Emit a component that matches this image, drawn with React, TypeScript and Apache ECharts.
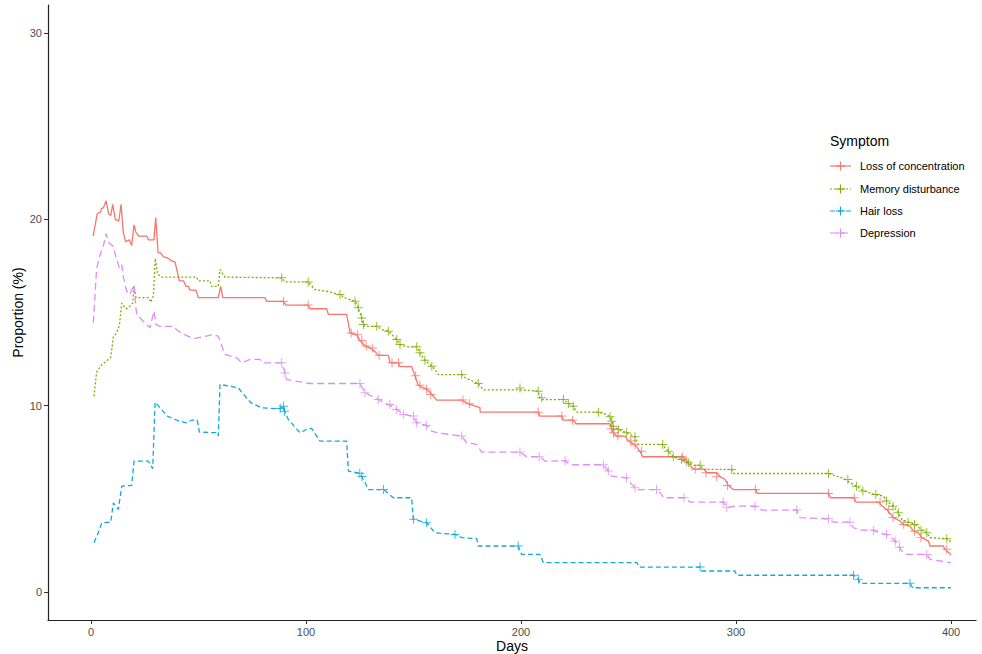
import React, { useEffect, useRef } from "react";
import * as echarts from "echarts";

const xTicks = [0, 100, 200, 300, 400];
const yTicks = [0, 10, 20, 30];
const seriesNames = ["Loss of concentration", "Memory disturbance", "Hair loss", "Depression"];
const colors = ["#F8766D", "#7CAE00", "#12A9D6", "#E08CF3"];

const lossConcentration = [[1,19.1],[2.9,20.3],[4.5,20.4],[5,20.6],[5.7,20.6],[7,21.0],[8.2,20.3],[9.2,20.2],[10.1,20.8],[11.3,20.0],[12.9,19.9],[14,20.8],[15,19.3],[16.1,18.8],[17.8,18.9],[18.9,18.6],[20,19.7],[20.9,19.3],[22.2,19.1],[25.9,19.1],[26.7,18.9],[29.3,18.9],[30.1,20.1],[31.2,18.2],[32.4,18.2],[33.6,18.0],[36,17.9],[37.1,17.8],[39.1,17.7],[41.1,16.7],[43,16.7],[44.2,16.4],[45.3,16.4],[46,16.2],[48.8,16.2],[49.9,15.8],[59.2,15.8],[60.3,16.4],[61.3,15.8],[80.9,15.8],[81.7,15.6],[89.5,15.6],[90.7,15.4],[101,15.4],[101.9,15.2],[109.6,15.2],[110.4,14.9],[118.9,14.9],[120.5,13.9],[123.6,13.8],[125.1,13.5],[127.4,13.2],[129.8,13.1],[132.1,12.9],[133.6,12.7],[138.3,12.7],[139.1,12.3],[142.9,12.3],[143.7,12.1],[149.1,12.1],[150.7,11.6],[152.2,11.1],[153.8,11.0],[156.1,10.9],[158.5,10.6],[160.8,10.3],[172.4,10.3],[175.5,10.1],[180.9,9.9],[181,9.65],[208,9.65],[208.8,9.44],[218.9,9.44],[219.7,9.22],[224.3,9.22],[225.6,9.03],[241.4,9.03],[242.2,8.76],[242.9,8.55],[244.5,8.37],[248.4,8.37],[250,8.1],[253,7.9],[255.3,7.56],[256.6,7.26],[275.5,7.26],[277,7.02],[278.6,6.8],[280.2,6.6],[285.1,6.6],[286.4,6.4],[291,6.4],[292.6,6.19],[294.9,6.04],[296.4,5.72],[298.7,5.5],[309.3,5.5],[309.9,5.29],[342.9,5.29],[344.1,5.06],[354.9,5.06],[355.8,4.83],[366.2,4.83],[367.7,4.65],[370,4.43],[371.3,4.26],[373.2,3.99],[376.3,3.81],[377.8,3.63],[380.9,3.54],[382.5,3.27],[384.8,3.18],[386.4,2.92],[389.5,2.73],[390.2,2.47],[396.4,2.47],[397.2,2.29],[400,2.0]];

const memoryDisturbance = [[1.4,10.5],[2.6,11.8],[5,12.2],[7.3,12.4],[9.2,12.6],[10.4,13.7],[11.9,13.9],[13.2,14.3],[14.3,15.5],[16.1,15.2],[17.4,15.25],[19.4,15.5],[20,16.4],[20.9,15.8],[26.7,15.8],[27.8,15.55],[29,15.9],[29.9,17.9],[30.9,17.1],[32.5,16.9],[49.1,16.9],[49.9,16.7],[55.3,16.7],[56.1,16.4],[59.2,16.4],[60,17.3],[62.3,16.9],[88.7,16.86],[90.2,16.64],[101,16.64],[104.2,16.23],[109.6,16.14],[115.8,15.96],[118.1,15.78],[122.8,15.6],[124.3,15.25],[125.9,14.7],[126.7,14.35],[127.4,14.26],[132.9,14.26],[135.2,14.09],[138.3,14.0],[142.2,13.55],[143.7,13.28],[146.8,13.16],[151.5,13.16],[153,12.84],[155.3,12.44],[158.5,12.12],[160,11.94],[161.5,11.67],[172.4,11.67],[174,11.5],[180.1,11.19],[182.5,10.85],[199.5,10.85],[208,10.78],[208.8,10.42],[209.6,10.33],[219.7,10.33],[222,10.12],[224.3,9.97],[225.9,9.65],[236,9.65],[239.8,9.53],[241.4,9.4],[242.2,9.17],[242.9,8.9],[245.3,8.72],[249.1,8.55],[253,8.33],[254.6,7.92],[265.9,7.92],[266.9,7.74],[268.5,7.56],[270.8,7.26],[274.7,7.11],[277.8,6.94],[280.2,6.8],[283.3,6.8],[284.8,6.58],[298,6.58],[299,6.36],[343,6.36],[350,6.1],[353,5.87],[356,5.68],[359.2,5.42],[364.7,5.24],[368.5,5.15],[370,4.88],[373.2,4.61],[375.5,4.26],[377.1,3.9],[380.2,3.75],[383.3,3.63],[386.4,3.32],[388.7,3.18],[390.2,2.92],[398,2.86],[399.5,2.73],[400,2.73]];

const hairLoss = [[1.4,2.65],[3.4,3.18],[5,3.72],[9.2,3.75],[10.4,4.79],[12.7,4.43],[14.3,5.68],[18.9,5.72],[20,7.02],[26.7,7.02],[28.7,6.62],[29.8,10.19],[32.1,9.89],[35.5,9.44],[39.8,9.22],[44.2,9.08],[46.8,9.22],[49.4,9.22],[50.4,8.58],[58.5,8.55],[59.2,8.37],[60,11.14],[68.5,10.96],[70.1,10.72],[74.3,10.16],[79.4,9.89],[87.9,9.83],[89.5,9.97],[90,9.71],[91.8,9.26],[97.2,8.55],[101.1,8.78],[102.6,8.78],[106.5,8.1],[118.9,8.1],[119.7,6.49],[125.1,6.37],[126.7,6.04],[129,5.5],[136,5.5],[140.6,5.06],[149.1,5.06],[149.9,3.9],[156.1,3.72],[160,3.18],[169.3,3.09],[172.4,2.92],[179.4,2.86],[180.1,2.47],[198.7,2.47],[200.3,2.02],[208.8,2.02],[210.4,1.58],[253.8,1.58],[255,1.34],[283.3,1.34],[284,1.13],[299.5,1.13],[300.3,0.9],[354.6,0.9],[356.9,0.68],[357.7,0.47],[380.9,0.47],[382.2,0.23],[400,0.23]];

const depression = [[1.1,14.45],[2.6,17.34],[4.2,18.1],[5.7,18.55],[7,19.23],[8.5,18.7],[10.4,18.55],[11.6,17.98],[13.2,17.39],[14.3,17.57],[15,16.94],[16.6,16.14],[18.1,15.96],[20,16.5],[21.2,14.89],[24.3,14.53],[27.4,14.18],[29.3,15.07],[30.2,14.35],[32.1,14.26],[38.3,14.26],[40.6,14.0],[44.5,13.76],[47.6,13.59],[56.9,13.82],[59.2,13.73],[62.3,12.75],[67.8,12.57],[70.1,12.3],[74,12.48],[78.6,12.48],[80,12.3],[88.7,12.3],[90.2,11.76],[91,11.4],[101.9,11.19],[125.1,11.19],[127.4,10.69],[133.6,10.33],[138.3,10.06],[142.2,9.8],[145.3,9.53],[149.9,9.44],[151.5,9.08],[156.1,8.94],[158.5,8.63],[160.8,8.55],[172.4,8.37],[174.7,8.01],[179.4,7.92],[181.7,7.51],[199.5,7.51],[202.6,7.26],[208.8,7.26],[211.2,7.02],[220.5,7.04],[222.8,6.83],[238.3,6.83],[240.6,6.49],[242.2,6.22],[249.1,6.13],[250.7,5.87],[253,5.6],[253.8,5.5],[263.1,5.5],[265.4,5.24],[266.2,5.06],[275.8,5.06],[278.6,4.83],[294.1,4.83],[295.7,4.53],[299.5,4.61],[308.8,4.61],[311.9,4.4],[328.2,4.4],[329.8,3.99],[342.9,3.93],[345.3,3.75],[353,3.75],[354.6,3.45],[358.5,3.32],[363.9,3.32],[367,3.15],[370.1,3.09],[372.4,2.92],[374,2.73],[375.5,2.5],[377.1,2.2],[379.4,2.02],[388.7,2.02],[390.2,1.75],[399.5,1.58],[400,1.58]];

const lossMarks = [[89.5,15.6],[101,15.4],[121,13.9],[124,13.8],[126,13.5],[128,13.2],[131,13.1],[134,12.7],[140,12.3],[143,12.3],[151,11.6],[153,11.1],[156,10.9],[158,10.6],[173,10.3],[176,10.1],[208,9.65],[219,9.44],[224,9.22],[242,8.76],[243,8.55],[245,8.37],[251,8.1],[253,7.9],[256,7.56],[275,7.26],[277,7.02],[281,6.6],[286,6.4],[291,6.19],[296,5.72],[309,5.5],[343,5.29],[355,5.06],[367,4.83],[371,4.43],[373,4.0],[378,3.63],[383,3.27],[386,2.92],[398,2.29]];
const memoryMarks = [[88.7,16.86],[101,16.64],[115.8,15.96],[122.8,15.6],[124.3,15.25],[125.9,14.7],[126.7,14.35],[132.9,14.26],[138.3,14.0],[142.2,13.55],[143.7,13.28],[151.5,13.16],[153,12.84],[155.3,12.44],[158.5,12.12],[172.4,11.67],[180.1,11.19],[199.5,10.95],[208,10.78],[209.6,10.42],[219.7,10.33],[222,10.12],[224.3,9.97],[236,9.65],[241.4,9.4],[242.2,9.17],[242.9,8.9],[245.3,8.72],[249.1,8.55],[253,8.33],[265.9,7.92],[268.5,7.56],[270.8,7.26],[274.7,7.11],[277.8,6.94],[283.3,6.8],[298,6.58],[343,6.36],[352,6.04],[356,5.68],[359,5.42],[365,5.24],[370,4.88],[373,4.61],[375.5,4.26],[380,3.75],[383,3.63],[386,3.32],[388.7,3.18],[398,2.86]];
const hairMarks = [[88,9.85],[89.5,9.97],[90,9.7],[125,6.37],[126,6.2],[136,5.5],[150,3.9],[156,3.72],[169.3,3.09],[198.7,2.47],[283.3,1.34],[354.6,0.9],[357,0.68],[380.9,0.47]];
const depressionMarks = [[88.7,12.3],[90.2,11.76],[125.1,11.19],[127.4,10.69],[133.6,10.33],[139,10.06],[142,9.8],[145.3,9.53],[150,9.44],[151.5,9.08],[156,8.94],[172.4,8.37],[199.5,7.51],[208.5,7.26],[220.5,7.04],[238.3,6.83],[240.6,6.49],[249,6.13],[253,5.6],[263,5.5],[275.8,5.06],[294,4.83],[295.7,4.53],[308.8,4.61],[328.2,4.4],[343,3.93],[353,3.75],[364,3.32],[370,3.09],[374,2.73],[376,2.4],[388.7,2.02]];

const lineData = [lossConcentration, memoryDisturbance, hairLoss, depression];
const markData = [lossMarks, memoryMarks, hairMarks, depressionMarks];
const dashes: any[] = ["solid", [2, 2], [5, 3], [7, 4]];

const FONT = "'Liberation Sans', Arial, sans-serif";
const PLUS = "path://M0,4.45H10V5.55H0Z M4.45,0H5.55V10H4.45Z";

export default function App() {
  const ref = useRef<HTMLDivElement>(null);
  useEffect(() => {
    if (!ref.current) return;
    const chart = echarts.init(ref.current, undefined, { renderer: "svg" });

    const series: any[] = [];
    lineData.forEach((d, i) => {
      series.push({
        name: seriesNames[i],
        type: "line",
        data: d,
        showSymbol: false,
        symbol: "none",
        lineStyle: { color: colors[i], width: 1.3, type: dashes[i] },
        z: 2,
      });
    });
    markData.forEach((d, i) => {
      series.push({
        name: seriesNames[i] + " censored",
        type: "scatter",
        data: d,
        symbol: PLUS,
        symbolSize: 9,
        itemStyle: { color: colors[i] },
        z: 3,
      });
    });

    const legendX = 830;
    const legendY = [166, 189, 211, 233];
    const graphic: any[] = [
      {
        type: "text",
        left: 830,
        top: 134,
        style: { text: "Symptom", font: `14px ${FONT}`, fill: "#000" },
      },
    ];
    seriesNames.forEach((n, i) => {
      graphic.push({
        type: "line",
        shape: { x1: legendX, y1: legendY[i], x2: legendX + 21, y2: legendY[i] },
        style: {
          stroke: colors[i],
          lineWidth: 1.2,
          lineDash: dashes[i] === "solid" ? null : dashes[i],
        },
      });
      graphic.push({
        type: "line",
        shape: { x1: legendX + 6, y1: legendY[i], x2: legendX + 15, y2: legendY[i] },
        style: { stroke: colors[i], lineWidth: 1.1 },
      });
      graphic.push({
        type: "line",
        shape: { x1: legendX + 10.5, y1: legendY[i] - 4.5, x2: legendX + 10.5, y2: legendY[i] + 4.5 },
        style: { stroke: colors[i], lineWidth: 1.1 },
      });
      graphic.push({
        type: "text",
        x: 860,
        y: legendY[i],
        style: { text: n, font: `11px ${FONT}`, fill: "#000", verticalAlign: "middle" },
      });
    });

    chart.setOption({
      animation: false,
      backgroundColor: "#fff",
      textStyle: { fontFamily: FONT },
      grid: { left: 48, right: 6, top: 5, bottom: 34, containLabel: false, outerBoundsMode: "none" },
      xAxis: {
        type: "value",
        min: -20,
        max: 411.6,
        name: "Days",
        nameLocation: "middle",
        nameGap: 19,
        nameMoveOverlap: false,
        nameTextStyle: { color: "#000", fontSize: 14, fontFamily: FONT },
        axisLine: { show: true, onZero: false, lineStyle: { color: "#222", width: 1.2 } },
        axisTick: { show: true, length: 4, customValues: xTicks, lineStyle: { color: "#333" } },
        axisLabel: { customValues: xTicks, color: "#4D4D4D", fontSize: 11, margin: 6, fontFamily: FONT },
        splitLine: { show: false },
      },
      yAxis: {
        type: "value",
        min: -1.5,
        max: 31.5,
        name: "Proportion (%)",
        nameLocation: "middle",
        nameGap: 23,
        nameMoveOverlap: false,
        nameRotate: 90,
        nameTextStyle: { color: "#000", fontSize: 14, fontFamily: FONT },
        axisLine: { show: true, onZero: false, lineStyle: { color: "#222", width: 1.2 } },
        axisTick: { show: true, length: 4, customValues: yTicks, lineStyle: { color: "#333" } },
        axisLabel: { customValues: yTicks, color: "#4D4D4D", fontSize: 11, margin: 6, fontFamily: FONT },
        splitLine: { show: false },
      },
      graphic,
      series,
    });
    return () => chart.dispose();
  }, []);
  return (
    <div
      ref={ref}
      style={{ position: "fixed", left: 0, top: 0, width: 982, height: 654, background: "#fff" }}
    />
  );
}
